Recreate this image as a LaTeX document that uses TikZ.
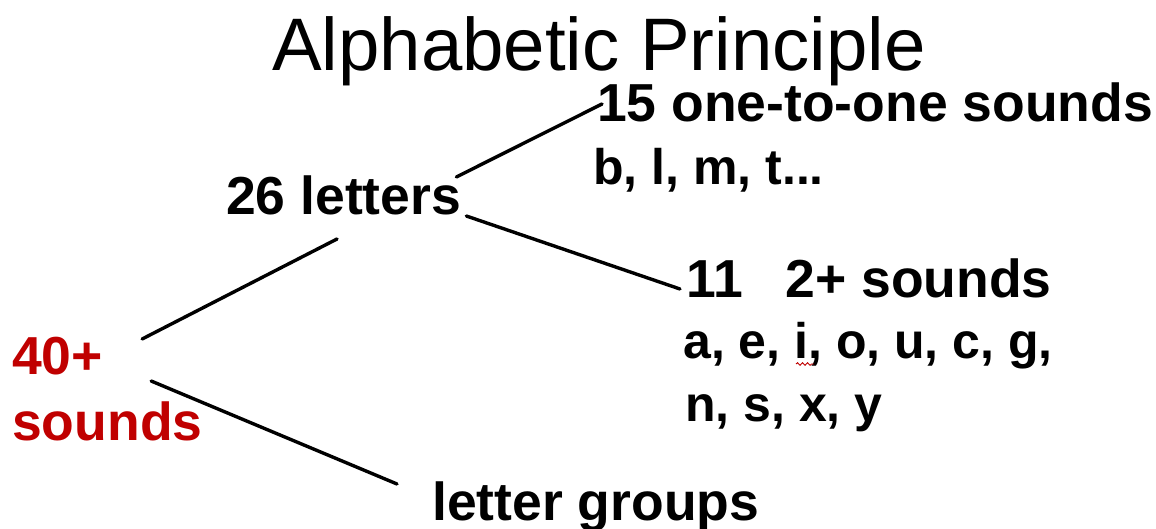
\documentclass[tikz,border=0pt]{standalone}
\usepackage{fontspec}
\setmainfont{Liberation Sans}
\usetikzlibrary{calc,decorations.pathmorphing}
\definecolor{accentred}{RGB}{192,0,0}
\begin{document}
\begin{tikzpicture}[x=1pt,y=-1pt,
  label/.style={anchor=base west,inner sep=0pt,font=\fontsize{53.5}{64}\selectfont\bfseries},
  sublabel/.style={anchor=base west,inner sep=0pt,font=\fontsize{50}{60}\selectfont\bfseries},
  titletext/.style={anchor=base west,inner sep=0pt,font=\fontsize{74.4}{89}\selectfont},
  branch/.style={line width=3.4pt,line cap=round}]
\useasboundingbox[fill=white] (0,0) rectangle (1156,529);

% heading
\node[titletext] (title) at (272,71) {Alphabetic Principle};

% tree labels
\node[label,text=accentred] (red40) at (12,374) {40+};
\node[label,text=accentred] (redsounds) at (12,440) {sounds};
\node[label] (letters) at (226,215) {26 letters};
\node[label] (groups) at (432,520) {letter groups};
\node[label] (one) at (597,122) {15 one-to-one sounds};
\node[sublabel] (blm) at (593,185) {b, l, m, t...};
\node[label] (two) at (686,298) {11\hspace{0.8em}2+ sounds};
\node[sublabel] (aeio) at (683,358) {a, e, i, o, u, c, g,};
\node[sublabel] (nsxy) at (685,421) {n, s, x, y};

% branches
\draw[branch] ($(red40.base east)+(39,-35)$) -- ($(letters.base west)+(111,24)$);
\draw[branch] ($(red40.base east)+(48,7)$) -- ($(groups.base west)+(-35,-36)$);
\draw[branch] ($(letters.base east)+(-5,-38)$) -- ($(one.base west)+(5,-18)$);
\draw[branch] ($(letters.base east)+(5,1)$) -- ($(two.base west)+(-6,-9)$);

% spelling squiggle under the i
\draw[accentred,line width=0.9pt,decorate,decoration={snake,amplitude=1.3pt,segment length=5pt}]
  ($(aeio.base west)+(113,6)$) -- ($(aeio.base west)+(131,6)$);
\end{tikzpicture}
\end{document}
